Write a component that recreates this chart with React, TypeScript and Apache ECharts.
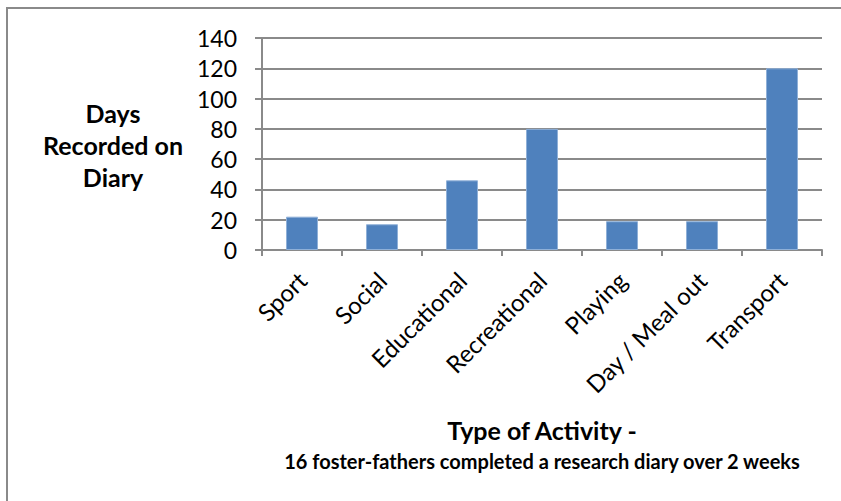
import React, { useEffect, useRef } from "react";
import * as echarts from "echarts";

// Activity categories and number of diary days recorded for each
const categories = [
  "Sport",
  "Social",
  "Educational",
  "Recreational",
  "Playing",
  "Day / Meal out",
  "Transport",
];
const daysRecorded = [22, 17, 46, 80, 19, 19, 120];

const yAxisTitle = ["Days", "Recorded on", "Diary"];
const xAxisTitle = "Type of Activity -";
const xAxisSubtitle = "16 foster-fathers completed a research diary over 2 weeks";

const FONT = "Lato, 'Open Sans', 'Liberation Sans', sans-serif";
const GRID_GRAY = "#8a8a8a";

export default function App() {
  const ref = useRef<HTMLDivElement>(null);

  useEffect(() => {
    if (!ref.current) return;
    const chart = echarts.init(ref.current, null, { renderer: "svg" });
    chart.setOption({
      animation: false,
      backgroundColor: "#ffffff",
      textStyle: { fontFamily: FONT },
      grid: { left: 262, right: 19, top: 38, bottom: 251, containLabel: false },
      xAxis: {
        type: "category",
        data: categories,
        boundaryGap: true,
        axisLine: { show: true, lineStyle: { color: GRID_GRAY, width: 2 } },
        axisTick: {
          show: true,
          alignWithLabel: false,
          length: 6,
          lineStyle: { color: GRID_GRAY, width: 2 },
        },
        axisLabel: {
          rotate: 45,
          margin: 26,
          interval: 0,
          color: "#000000",
          fontSize: 24,
          fontFamily: FONT,
        },
      },
      yAxis: {
        type: "value",
        min: 0,
        max: 140,
        interval: 20,
        axisLine: { show: true, lineStyle: { color: GRID_GRAY, width: 2 } },
        axisTick: { show: true, length: 7, lineStyle: { color: GRID_GRAY, width: 2 } },
        axisLabel: {
          margin: 25,
          color: "#000000",
          fontSize: 23,
          fontFamily: FONT,
        },
        splitLine: { show: true, lineStyle: { color: GRID_GRAY, width: 2 } },
      },
      series: [
        {
          type: "bar",
          data: daysRecorded,
          barWidth: "40%",
          itemStyle: {
            color: "#4F81BD",
            borderColor: "#8fb0d8",
            borderWidth: 1,
          },
        },
      ],
      graphic: [
        {
          type: "rect",
          silent: true,
          shape: { x: 7, y: 8, width: 900, height: 600 },
          style: { fill: "none", stroke: GRID_GRAY, lineWidth: 2 },
        },
        {
          type: "text",
          silent: true,
          x: 113,
          y: 145,
          style: {
            text: yAxisTitle.join("\n"),
            font: `bold 25px ${FONT}`,
            fill: "#000000",
            align: "center",
            verticalAlign: "middle",
            lineHeight: 32,
          },
        },
        {
          type: "text",
          silent: true,
          x: 542,
          y: 430,
          style: {
            text: xAxisTitle,
            font: `bold 25px ${FONT}`,
            fill: "#000000",
            align: "center",
            verticalAlign: "middle",
          },
        },
        {
          type: "text",
          silent: true,
          x: 542,
          y: 461,
          style: {
            text: xAxisSubtitle,
            font: `bold 20px ${FONT}`,
            fill: "#000000",
            align: "center",
            verticalAlign: "middle",
          },
        },
      ],
    });
    return () => chart.dispose();
  }, []);

  return (
    <div
      ref={ref}
      style={{ position: "fixed", left: 0, top: 0, width: 841, height: 501 }}
    />
  );
}
